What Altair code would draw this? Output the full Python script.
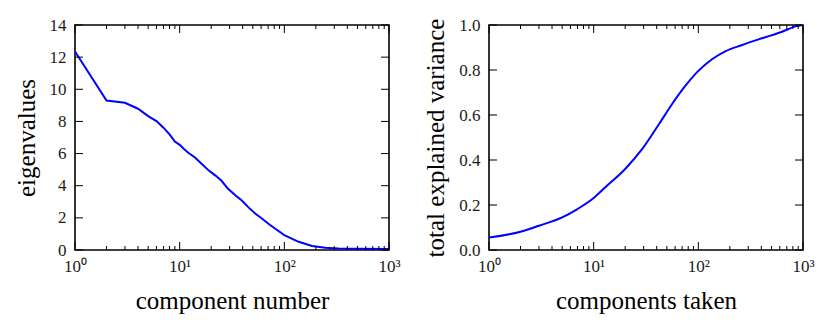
import altair as alt
import pandas as pd

# ---- data ----
comp_x = [1, 2, 3, 4, 5, 6, 7, 8, 9, 10, 11, 12, 14, 16, 19, 22, 25, 29, 34, 39,
          46, 53, 61, 71, 82, 100, 137, 184, 246, 330, 512, 1000]
eig_y = [12.35, 9.30, 9.16, 8.79, 8.33, 8.02, 7.61, 7.20, 6.75, 6.54, 6.28, 6.07,
         5.76, 5.40, 4.94, 4.63, 4.32, 3.81, 3.40, 3.09, 2.62, 2.25, 1.96, 1.62,
         1.32, 0.93, 0.51, 0.25, 0.14, 0.10, 0.08, 0.06]

taken_x = [1, 2, 3, 5, 7, 10, 13, 20, 29, 42, 56, 75, 100, 135, 181, 262, 406,
           632, 849, 1000]
var_y = [0.056, 0.081, 0.108, 0.145, 0.182, 0.231, 0.280, 0.360, 0.448, 0.559,
         0.648, 0.729, 0.796, 0.848, 0.883, 0.911, 0.941, 0.970, 0.994, 1.000]

x_major = [1, 10, 100, 1000]
x_minor = [2, 3, 4, 5, 6, 7, 8, 9, 20, 30, 40, 50, 60, 70, 80, 90,
           200, 300, 400, 500, 600, 700, 800, 900]
eig_ticks = [0, 2, 4, 6, 8, 10, 12, 14]
var_ticks = [0.0, 0.2, 0.4, 0.6, 0.8, 1.0]

W, H = 314, 225
FONT = "Liberation Serif"
MAJ, MIN = 8, 4

LABEL_EXPR = ("datum.value == 1 ? '10⁰' : datum.value == 10 ? '10¹' : "
              "datum.value == 100 ? '10²' : '10³'")


def panel(xs, ys, xtitle, ytitle, ydomain, yticks, yfmt, interp):
    xscale = alt.Scale(type="log", domain=[1, 1000], nice=False)
    yscale = alt.Scale(domain=ydomain, nice=False, zero=False)
    common = dict(ticks=False, domain=False, grid=False, labelFont=FONT,
                  titleFont=FONT, labelFontSize=17, titleFontSize=25,
                  labelColor="#1a1a1a", titleColor="#000", titleFontWeight="normal")
    xaxis = alt.Axis(values=x_major, labelExpr=LABEL_EXPR, title=xtitle,
                     labelPadding=8, titlePadding=14, labelFlush=False, **common)
    yaxis = alt.Axis(values=yticks, format=yfmt, title=ytitle, labelPadding=9,
                     titlePadding=10, labelFlush=False, **common)

    line = alt.Chart(pd.DataFrame({"x": xs, "y": ys})).mark_line(
        color="#0000ff", strokeWidth=2, interpolate=interp, clip=True
    ).encode(x=alt.X("x:Q", scale=xscale, axis=xaxis),
             y=alt.Y("y:Q", scale=yscale, axis=yaxis))

    def xt(vals, y0, y1):
        return alt.Chart(pd.DataFrame({"x": vals})).mark_rule(
            color="black", strokeWidth=1
        ).encode(x=alt.X("x:Q", scale=xscale, axis=xaxis),
                 y=alt.value(y0), y2=alt.value(y1))

    def yt(vals, x0, x1):
        return alt.Chart(pd.DataFrame({"y": vals})).mark_rule(
            color="black", strokeWidth=1
        ).encode(y=alt.Y("y:Q", scale=yscale, axis=yaxis),
                 x=alt.value(x0), x2=alt.value(x1))

    layers = [
        line,
        xt(x_major, H, H - MAJ), xt(x_minor, H, H - MIN),
        xt(x_major, 0, MAJ), xt(x_minor, 0, MIN),
        yt(yticks, 0, MAJ), yt(yticks, W, W - MAJ),
    ]
    return alt.layer(*layers).properties(width=W, height=H)


left = panel(comp_x, eig_y, "component number", "eigenvalues", [0, 14],
             eig_ticks, "d", "linear")
right = panel(taken_x, var_y, "components taken", "total explained variance",
              [0, 1], var_ticks, ".1f", "monotone")

chart = alt.hconcat(left, right, spacing=100, bounds="flush").configure_view(
    stroke="black", strokeWidth=1.6
).properties(padding={"left": 5, "top": 7, "right": 5, "bottom": 5})

chart.save("out.html", embed_options={"renderer": "svg", "actions": False})
